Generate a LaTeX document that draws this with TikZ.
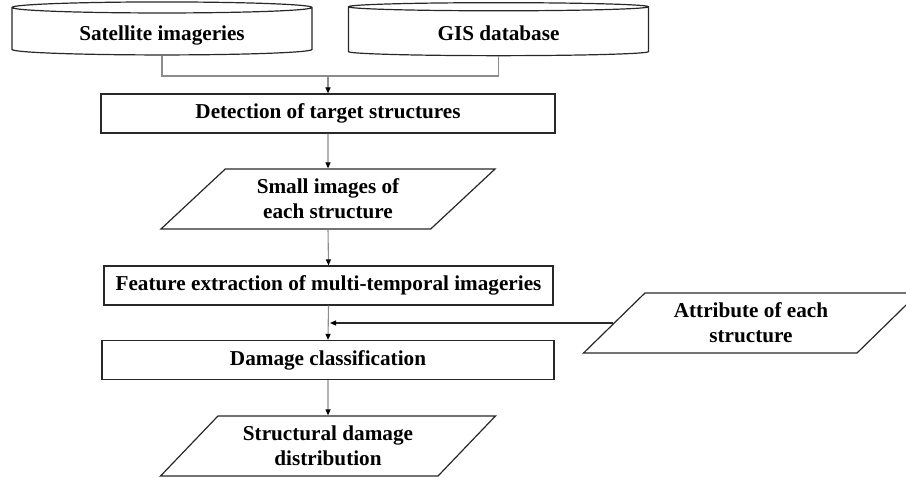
\documentclass[tikz,border=0pt]{standalone}
\usepackage{fontspec}
\setmainfont{Liberation Serif}
\usetikzlibrary{shapes.geometric}
\usetikzlibrary{arrows.meta}
\usetikzlibrary{positioning}
\definecolor{linegray}{RGB}{140,140,140}
\definecolor{edgedark}{RGB}{40,40,40}

\begin{document}
\begin{tikzpicture}[x=1pt,y=-1pt,
    every node/.style={font=\fontsize{21.2}{25}\selectfont\bfseries,align=center,
      draw=edgedark,line width=1.2pt,fill=white,inner sep=0pt},
    dbase/.style={cylinder,shape border rotate=90,aspect=0.0667,
      minimum width=300pt,minimum height=53pt,text height=24pt,text depth=5pt},
    procbox/.style={rectangle,minimum height=39pt},
    datapara/.style={trapezium,trapezium left angle=42,trapezium right angle=138,
      trapezium stretches=true,minimum width=335pt,minimum height=60pt},
    flow/.style={draw=linegray,line width=1.1pt,
      -{Triangle[length=6pt,width=5pt,color=black]}}]
  \useasboundingbox (0,0) rectangle (906,478);
  \node[dbase] (sat) at (162,31.5) {Satellite imageries};
  \node[dbase] (gis) at (498.5,31.5) {GIS database};
  \node[procbox,minimum width=454pt] (detect) at (328,113.5) {Detection of target structures};
  \node[datapara] (small) at (328,199) {Small images of\\each structure};
  \node[procbox,minimum width=449pt] (feat) at (328.5,285.5) {Feature extraction of multi-temporal imageries};
  \node[datapara] (attr) at (751,323) {Attribute of each\\structure};
  \node[procbox,minimum width=452pt] (dmg) at (328,360) {Damage classification};
  \node[datapara] (result) at (328,446) {Structural damage\\distribution};
  \coordinate (join) at (328,76);
  \draw[draw=linegray,line width=1.1pt] (sat.south) |- (join) -| (gis.south);
  \draw[flow] (join) -- (detect.north);
  \draw[flow] (detect.south) -- (small.north);
  \draw[flow] (small.south) -- (feat.north);
  \draw[flow] (feat.south) -- (dmg.north);
  \draw[flow,draw=edgedark,shorten >=1.5pt] (attr.west) -- (attr.west -| feat.south);
  \draw[flow] (dmg.south) -- (result.north);
\end{tikzpicture}
\end{document}
